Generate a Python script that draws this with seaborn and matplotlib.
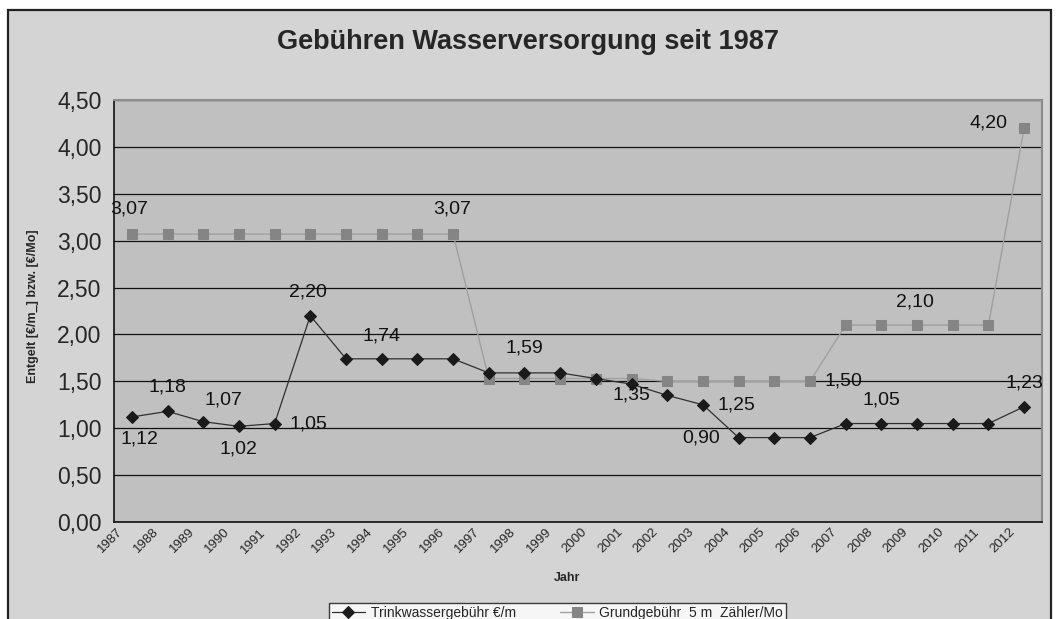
import matplotlib
matplotlib.use("Agg")
import matplotlib.pyplot as plt
import matplotlib.transforms as mtransforms
from matplotlib.patches import Rectangle
import seaborn as sns
import pandas as pd

# --- data ---
years = [str(y) for y in range(1987, 2013)]
trinkwasser = [1.12, 1.18, 1.07, 1.02, 1.05, 2.20, 1.74, 1.74, 1.74, 1.74,
               1.59, 1.59, 1.59, 1.53, 1.47, 1.35, 1.25, 0.90, 0.90, 0.90,
               1.05, 1.05, 1.05, 1.05, 1.05, 1.23]
grundgebuehr = [3.07, 3.07, 3.07, 3.07, 3.07, 3.07, 3.07, 3.07, 3.07, 3.07,
                1.53, 1.53, 1.53, 1.53, 1.53, 1.50, 1.50, 1.50, 1.50, 1.50,
                2.10, 2.10, 2.10, 2.10, 2.10, 4.20]
y_ticks = [0.0, 0.5, 1.0, 1.5, 2.0, 2.5, 3.0, 3.5, 4.0, 4.5]

# which points get a value label, and where (offset in pixels)
trink_labels = {0: (8, -22), 1: (0, 24), 2: (20, 22), 3: (0, -23), 4: (34, 0),
                5: (-2, 24), 7: (0, 23), 11: (0, 25), 15: (-36, 0), 16: (34, 0),
                17: (-37, 0), 21: (0, 24), 25: (0, 24)}
grund_labels = {0: (-3, 25), 9: (-1, 25), 19: (33, 0), 22: (-2, 23), 25: (-36, 5)}

W, H = 1057, 619
sns.set_style("white")
plt.rcParams['font.family'] = ['Liberation Sans', 'DejaVu Sans']

df = pd.DataFrame({"pos": range(len(years)), "trink": trinkwasser, "grund": grundgebuehr})

fig = plt.figure(figsize=(W / 100, H / 100), dpi=100, facecolor="white")
fig.patches.append(Rectangle((8 / W, -0.05), (1051 - 8) / W, 1.05 - 10 / H,
                             transform=fig.transFigure, facecolor="#d4d4d4",
                             edgecolor="#222222", linewidth=1.6, zorder=-10))

ax = fig.add_axes([114 / W, (H - 522) / H, (1042 - 114) / W, (522 - 100) / H])
ax.set_facecolor("#c0c0c0")

sns.lineplot(data=df, x="pos", y="trink", ax=ax, color="#303030", linewidth=0.9,
             marker="D", markersize=6.5, markerfacecolor="#1a1a1a",
             markeredgecolor="#1a1a1a", label="Trinkwassergebühr €/m", zorder=3)
sns.lineplot(data=df, x="pos", y="grund", ax=ax, color="#a0a0a0", linewidth=1.0,
             marker="s", markersize=7, markerfacecolor="#858585",
             markeredgecolor="#858585", label="Grundgebühr  5 m  Zähler/Mo", zorder=2)

def fmt(v):
    return f"{v:.2f}".replace(".", ",")

for i, (dx, dy) in trink_labels.items():
    ax.annotate(fmt(trinkwasser[i]), (i, trinkwasser[i]), xytext=(dx, dy),
                textcoords="offset pixels", ha="center", va="center",
                fontsize=14, color="#111111", zorder=5)
for i, (dx, dy) in grund_labels.items():
    ax.annotate(fmt(grundgebuehr[i]), (i, grundgebuehr[i]), xytext=(dx, dy),
                textcoords="offset pixels", ha="center", va="center",
                fontsize=14, color="#111111", zorder=5)

ax.set_xlim(-0.5, len(years) - 0.5)
ax.set_ylim(0, 4.5)
ax.set_yticks(y_ticks)
ax.set_yticklabels([fmt(v) for v in y_ticks], fontsize=16.5)
ax.yaxis.grid(True, color="#111111", linewidth=0.9)
ax.set_axisbelow(True)

ax.set_xticks(range(len(years)))
ax.set_xticklabels(years, rotation=45, ha="right", va="top",
                   rotation_mode="anchor", fontsize=9.5)
ax.set_xticks([i - 0.5 for i in range(len(years) + 1)], minor=True)
ax.tick_params(axis="x", which="major", length=0, pad=3)
ax.tick_params(axis="x", which="minor", length=5, width=1, color="#111111", direction="out")
ax.tick_params(axis="y", length=5, width=1, color="#111111", direction="out", pad=4)
shift = mtransforms.ScaledTranslation(-15 / 100, 0, fig.dpi_scale_trans)
for lab in ax.get_xticklabels():
    lab.set_transform(lab.get_transform() + shift)

for side in ["left", "bottom"]:
    ax.spines[side].set_color("#111111")
    ax.spines[side].set_linewidth(1.2)
for side in ["top", "right"]:
    ax.spines[side].set_color("#8c8c8c")
    ax.spines[side].set_linewidth(1.5)

ax.set_xlabel("")
ax.set_ylabel("")
fig.text(33 / W, 1 - 306 / H, "Entgelt [€/m_] bzw. [€/Mo]", fontsize=9,
         fontweight="bold", rotation=90, ha="center", va="center")
fig.text(567 / W, 1 - 578 / H, "Jahr", fontsize=9, fontweight="bold",
         ha="center", va="center")
fig.text(528 / W, 1 - 42 / H, "Gebühren Wasserversorgung seit 1987", fontsize=19.5,
         fontweight="bold", ha="center", va="center")

leg = ax.legend(loc="upper left", bbox_to_anchor=(329 / W, 1 - 603 / H),
                bbox_transform=fig.transFigure, ncol=2, fontsize=10,
                frameon=True, fancybox=False, borderpad=0.2, handlelength=2.4,
                columnspacing=3.2, handletextpad=0.4, borderaxespad=0)
leg.get_frame().set_edgecolor("#111111")
leg.get_frame().set_linewidth(1.0)
leg.get_frame().set_facecolor("white")

fig.savefig("out.png", dpi=100, facecolor=fig.get_facecolor())
